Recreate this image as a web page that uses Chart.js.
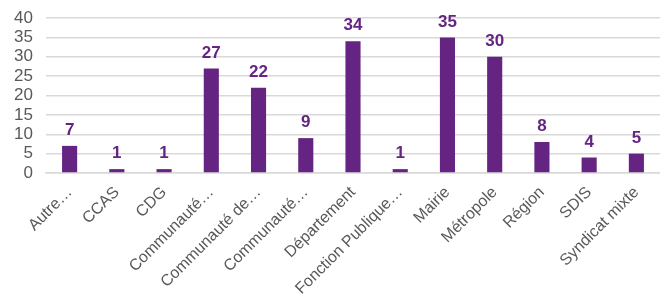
<!DOCTYPE html>
<html lang="fr">
<head>
  <meta charset="UTF-8" />
  <title>Répartition par type de collectivité</title>
  <script src="https://cdn.jsdelivr.net/npm/chart.js@4.4.1/dist/chart.umd.min.js"></script>
  <style>
    *{margin:0;padding:0;box-sizing:border-box}
    body{background:#fff;width:660px;height:300px;overflow:hidden}
    .wrap{position:relative;width:660px;height:300px}
  </style>
</head>
<body>
  <div class="wrap"><canvas id="chart"></canvas></div>
  <script>
    // data
    const categories = ['Autre…','CCAS','CDG','Communauté…','Communauté de…','Communauté…','Département','Fonction Publique…','Mairie','Métropole','Région','SDIS','Syndicat mixte'];
    const counts = [7,1,1,27,22,9,34,1,35,30,8,4,5];
    const yTicks = [0,5,10,15,20,25,30,35,40];

    const purple = '#652482';
    const grey = '#595959';

    // value labels above bars
    const valueLabels = {
      id:'valueLabels',
      afterDatasetsDraw(chart){
        const ctx = chart.ctx;
        const meta = chart.getDatasetMeta(0);
        ctx.save();
        ctx.fillStyle = purple;
        ctx.font = 'bold 17px "Liberation Sans", Arial, sans-serif';
        ctx.textAlign = 'center';
        ctx.textBaseline = 'bottom';
        meta.data.forEach((bar,i)=>{
          ctx.fillText(String(counts[i]), bar.x, bar.y - 7);
        });
        ctx.restore();
      }
    };

    new Chart(document.getElementById('chart').getContext('2d'),{
      type:'bar',
      data:{labels:categories,datasets:[{data:counts,backgroundColor:purple,barPercentage:0.32,categoryPercentage:1}]},
      options:{
        responsive:true,maintainAspectRatio:false,animation:false,
        layout:{padding:{top:18,right:0,left:0,bottom:0}},
        plugins:{legend:{display:false},tooltip:{enabled:false}},
        scales:{
          x:{
            grid:{display:false},
            border:{color:'#d9d9d9',width:1.5},
            ticks:{color:grey,font:{family:'"Liberation Sans", Arial, sans-serif',size:16},maxRotation:45,minRotation:45,autoSkip:false,padding:2},
            afterFit(s){s.height=127;s.paddingLeft=0;s.paddingRight=0;}
          },
          y:{
            min:0,max:40,
            afterBuildTicks(s){s.ticks=yTicks.map(v=>({value:v}));},
            grid:{color:'#d9d9d9',lineWidth:1.5,drawTicks:false},
            border:{display:false},
            ticks:{color:grey,font:{family:'"Liberation Sans", Arial, sans-serif',size:17},padding:13,autoSkip:false},
            afterFit(s){s.width=46;s.paddingTop=0;s.paddingBottom=0;}
          }
        }
      },
      plugins:[valueLabels]
    });
  </script>
</body>
</html>
